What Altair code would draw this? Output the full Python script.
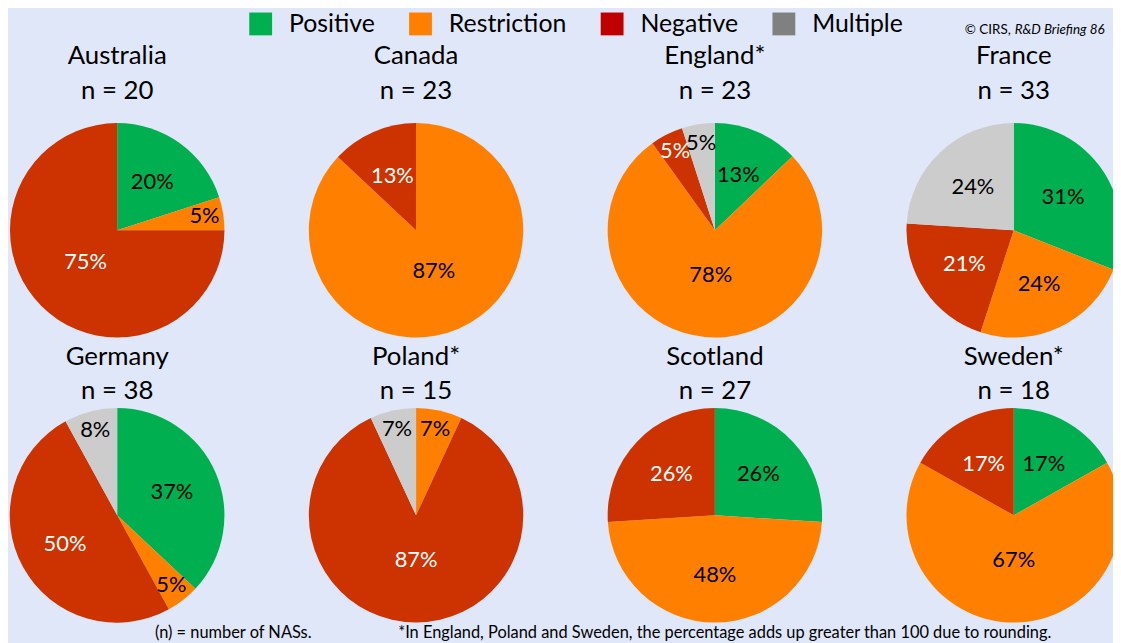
import math
import altair as alt
import pandas as pd

# ---------------- data ----------------
countries = ["Australia", "Canada", "England*", "France",
             "Germany", "Poland*", "Scotland", "Sweden*"]
n_values = [20, 23, 23, 33, 38, 15, 27, 18]
grid_col = [0, 1, 2, 3, 0, 1, 2, 3]
grid_row = [0, 0, 0, 0, 1, 1, 1, 1]

categories = ["Positive", "Restriction", "Negative", "Multiple"]
positive = [20, 0, 13, 31, 37, 0, 26, 17]
restriction = [5, 87, 78, 24, 5, 7, 48, 67]
negative = [75, 13, 5, 21, 50, 87, 26, 17]
multiple = [0, 0, 5, 24, 8, 7, 0, 0]

pie_colors = ["#00b050", "#ff8000", "#cc3300", "#cccccc"]
legend_colors = ["#00b050", "#ff8000", "#c00000", "#808080"]

series = dict(zip(categories, [positive, restriction, negative, multiple]))

rows = []
for i, c in enumerate(countries):
    total = sum(series[k][i] for k in categories)
    cum = 0
    for k in categories:
        v = series[k][i]
        if v == 0:
            continue
        rows.append(dict(country=c, col=grid_col[i], row=grid_row[i], category=k,
                         value=v, label=f"{v}%", start=cum / total,
                         end=(cum + v) / total, frac=v / total))
        cum += v
df = pd.DataFrame(rows)
df["mid"] = (df["start"] + df["end"]) / 2

titles = pd.DataFrame(dict(country=countries, col=grid_col, row=grid_row,
                           ntext=[f"n = {n}" for n in n_values]))

BG = "#e0e7f8"
FONT = "Lato"
R = 108

xs = alt.X("col:Q", scale=alt.Scale(domain=[0, 3], range=[110, 1013]), axis=None)
ys = alt.Y("row:Q", scale=alt.Scale(domain=[0, 1], range=[221.6, 508.7], zero=False, nice=False), axis=None)
y_name = alt.Y("row:Q", scale=alt.Scale(domain=[0, 1], range=[46.5, 349.5], zero=False, nice=False), axis=None)
y_n = alt.Y("row:Q", scale=alt.Scale(domain=[0, 1], range=[81, 383.5], zero=False, nice=False), axis=None)
theta_scale = alt.Scale(domain=[0, 1], range=[0, 2 * math.pi])

arcs = alt.Chart(df).mark_arc(outerRadius=R).encode(
    x=xs, y=ys,
    theta=alt.Theta("start:Q", scale=theta_scale),
    theta2="end:Q",
    color=alt.Color("category:N", scale=alt.Scale(domain=categories, range=pie_colors), legend=None),
)

labels = alt.Chart(df).transform_calculate(
    lr="datum.frac < 0.1 ? 89 : (datum.frac > 0.6 ? 45 : 60)"
).mark_text(font=FONT, fontSize=22).encode(
    x=xs, y=ys,
    theta=alt.Theta("mid:Q", scale=theta_scale),
    radius=alt.Radius("lr:Q", scale=None),
    text="label:N",
    color=alt.condition(alt.datum.category == "Negative", alt.value("white"), alt.value("black")),
)

names = alt.Chart(titles).mark_text(font=FONT, fontSize=26, color="black").encode(
    x=xs, y=y_name, text="country:N")
ns = alt.Chart(titles).mark_text(font=FONT, fontSize=26, color="black").encode(
    x=xs, y=y_n, text="ntext:N")

legend_df = pd.DataFrame(dict(cat=categories))
legend_layer = alt.Chart(legend_df).mark_square(size=529, opacity=1).encode(
    x=alt.value(-200), y=alt.value(-200),
    fill=alt.Fill("cat:N", scale=alt.Scale(domain=categories, range=legend_colors),
                  legend=alt.Legend(title=None, orient="none", legendX=242, legendY=1,
                                    direction="horizontal", symbolType="square",
                                    symbolSize=529, symbolOpacity=1, symbolStrokeWidth=0,
                                    labelFont=FONT, labelFontSize=25, labelColor="black",
                                    labelOffset=16, columnPadding=33)),
)

copy1 = alt.Chart(pd.DataFrame(dict(t=["© CIRS,"]))).mark_text(
    font=FONT, fontSize=13.5, align="right", baseline="middle", color="black").encode(
    x=alt.value(1010), y=alt.value(20), text="t:N")
copy2 = alt.Chart(pd.DataFrame(dict(t=["R&D Briefing 86"]))).mark_text(
    font=FONT, fontSize=13.5, fontStyle="italic", align="left", baseline="middle", color="black").encode(
    x=alt.value(1014), y=alt.value(20), text="t:N")

foot1 = alt.Chart(pd.DataFrame(dict(t=["(n) = number of NASs."]))).mark_text(
    font=FONT, fontSize=16.5, align="left", baseline="middle", color="black").encode(
    x=alt.value(148), y=alt.value(627), text="t:N")
foot2 = alt.Chart(pd.DataFrame(dict(t=["*In England, Poland and Sweden, the percentage adds up greater than 100 due to rounding."]))).mark_text(
    font=FONT, fontSize=16.5, align="left", baseline="middle", color="black").encode(
    x=alt.value(393), y=alt.value(627), text="t:N")

chart = alt.layer(arcs, labels, names, ns, legend_layer, copy1, copy2, foot1, foot2).resolve_scale(
    color="independent", fill="independent", y="independent"
).properties(
    width=1113, height=635, padding=0, background=BG,
    autosize=alt.AutoSizeParams(type="none"),
).configure_view(stroke=None)

chart.save("out.html", embed_options={"renderer": "svg", "actions": False})
